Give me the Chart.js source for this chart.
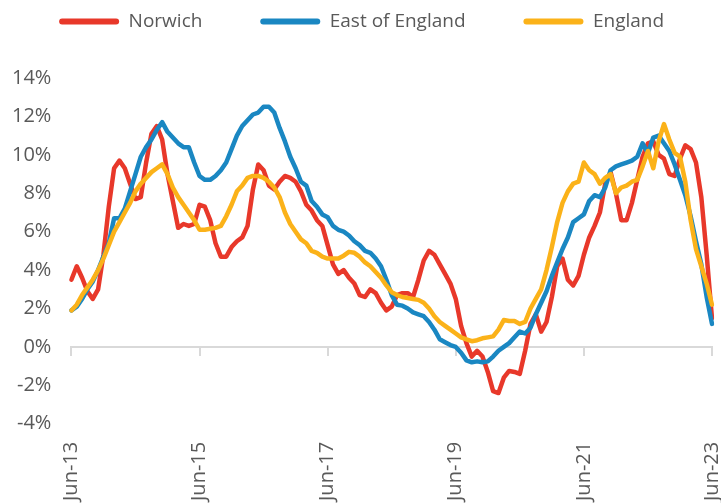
<!DOCTYPE html>
<html>
<head>
<meta charset="utf-8">
<script src="https://cdn.jsdelivr.net/npm/chart.js@4/dist/chart.umd.min.js"></script>
<style>
html, body { margin:0; padding:0; background:#fff; overflow:hidden; }
#wrap { position:relative; width:768px; height:519px; margin-left:-14px; }
</style>
</head>
<body>
<div id="wrap"><canvas id="c"></canvas></div>
<script>
'use strict';

// monthly, Jun-13 .. Jun-23 (121 points), annual % change
const MONTHS = ['Jan','Feb','Mar','Apr','May','Jun','Jul','Aug','Sep','Oct','Nov','Dec'];
const START_YEAR = 2013, START_MONTH = 5, N_MONTHS = 121;
const TICK_EVERY = 24;
const Y_TICKS = { min:-4, max:14, step:2 };

const norwich = [3.5,4.2,3.6,2.9,2.5,3.0,4.8,7.3,9.3,9.7, 9.3,8.5,7.7,7.8,9.6,11.1,11.5,10.8,9.0,7.6,
    6.2,6.4,6.3,6.4,7.4,7.3,6.6,5.4,4.7,4.7, 5.2,5.5,5.7,6.3,8.2,9.5,9.2,8.4,8.2,8.6,
    8.9,8.8,8.6,8.1,7.4,7.1,6.6,6.3,5.3,4.3, 3.8,4.0,3.6,3.3,2.7,2.6,3.0,2.8,2.3,1.9,
    2.1,2.7,2.8,2.8,2.6,3.5,4.5,5.0,4.8,4.3, 3.8,3.3,2.5,1.1,0.2,-0.5,-0.2,-0.5,-1.3,-2.3,
    -2.4,-1.6,-1.25,-1.3,-1.4,-0.2,1.2,1.7,0.8,1.3, 2.6,4.2,4.6,3.5,3.2,3.7,4.8,5.7,6.3,7.0,
    8.5,9.1,8.0,6.6,6.6,7.5,8.7,9.9,10.6,10.7, 10.0,9.8,9.0,8.9,9.8,10.5,10.3,9.6,7.8,4.8,
    1.5];
const eastOfEngland = [1.9,2.1,2.5,3.0,3.4,4.0,4.7,5.4,6.7,6.7, 7.2,8.1,9.0,9.9,10.4,10.8,11.3,11.7,11.2,10.9,
    10.6,10.4,10.4,9.6,8.9,8.7,8.7,8.9,9.2,9.6, 10.3,11.0,11.5,11.8,12.1,12.2,12.5,12.5,12.2,11.4,
    10.7,9.9,9.3,8.6,8.4,7.6,7.3,6.9,6.75,6.3, 6.1,6.0,5.8,5.5,5.3,5.0,4.9,4.6,4.2,3.5,
    2.7,2.2,2.15,2.0,1.8,1.7,1.6,1.3,0.9,0.4, 0.25,0.1,0.0,-0.3,-0.7,-0.8,-0.75,-0.8,-0.75,-0.5,
    -0.2,0.0,0.2,0.5,0.8,0.7,1.0,1.7,2.3,2.9, 3.7,4.4,5.1,5.7,6.5,6.7,6.9,7.6,7.9,7.8,
    8.3,9.2,9.4,9.5,9.6,9.7,9.9,10.6,10.1,10.9, 11.0,10.6,10.2,9.5,8.7,7.9,6.8,5.5,4.3,2.6,
    1.2];
const england = [1.9,2.2,2.7,3.1,3.5,4.0,4.6,5.3,6.0,6.5, 7.0,7.5,8.1,8.5,8.8,9.1,9.3,9.5,9.0,8.3,
    7.8,7.4,7.0,6.6,6.1,6.1,6.15,6.2,6.3,6.8, 7.4,8.1,8.4,8.8,8.9,8.9,8.8,8.6,8.3,7.8,
    7.0,6.4,6.0,5.6,5.4,5.0,4.9,4.7,4.6,4.6, 4.6,4.75,4.95,4.9,4.7,4.4,4.2,3.9,3.6,3.2,
    2.85,2.7,2.6,2.55,2.5,2.45,2.3,2.0,1.6,1.3, 1.1,0.9,0.7,0.5,0.4,0.3,0.35,0.45,0.5,0.55,
    0.9,1.4,1.35,1.35,1.2,1.3,2.0,2.5,3.0,4.0, 5.2,6.5,7.5,8.1,8.5,8.6,9.6,9.2,9.0,8.5,
    8.8,9.0,8.0,8.3,8.4,8.6,8.7,9.4,10.2,9.3, 10.7,11.6,10.8,10.1,9.9,8.6,6.6,5.1,4.2,3.3,
    2.2];

const labels = [];
for (let i = 0; i < N_MONTHS; i++) {
    const m = START_MONTH + i;
    labels.push(MONTHS[m % 12] + '-' + String(START_YEAR + Math.floor(m / 12)).slice(2));
}

const TXT = '#595959', AX = '#d9d9d9';
const FONT = { family:"'Open Sans', sans-serif", size:20 };
const LFONT = { family:"'Open Sans', sans-serif", size:19 };
const GAPS = ['\u2003\u2003  ', '\u2003\u2003  ', '   '];

// push the plot down below the legend, like the Excel layout
const legendMargin = { id:'legendMargin', beforeInit(chart) {
    const fit = chart.legend.fit;
    chart.legend.fit = function() { fit.call(this); this.height += 37; };
} };

const ds = (label, data, color, order) => ({ label, data, borderColor:color, backgroundColor:color,
    borderWidth:4.5, pointRadius:0, tension:0, order, borderJoinStyle:'round', borderCapStyle:'round' });

new Chart(document.getElementById('c'), {
    type:'line',
    data:{ labels, datasets:[
        ds('Norwich', norwich, '#e8382a', 2),
        ds('East of England', eastOfEngland, '#1a87c2', 1),
        ds('England', england, '#fbb219', 0)
    ] },
    plugins:[legendMargin],
    options:{
        responsive:true, maintainAspectRatio:false, animation:false,
        layout:{ padding:{ left:6, right:8, top:2, bottom:0 } },
        plugins:{
            tooltip:{ enabled:false },
            legend:{ display:true, position:'top', labels:{
                color:TXT, font:LFONT, boxWidth:60, boxHeight:6, padding:10, useBorderRadius:true, borderRadius:3,
                generateLabels:chart => chart.data.datasets.map((d, i) => ({
                    text:d.label + GAPS[i], fillStyle:d.borderColor, strokeStyle:d.borderColor,
                    lineWidth:0, borderRadius:3, fontColor:TXT, datasetIndex:i, hidden:false }))
            } }
        },
        scales:{
            x:{ type:'category', position:'bottom', grid:{ display:false, drawTicks:false }, border:{ display:false },
                ticks:{ color:TXT, font:FONT, autoSkip:false, maxRotation:90, minRotation:90, padding:18,
                    callback:(v, i) => i % TICK_EVERY === 0 ? labels[i] : null } },
            x2:{ type:'category', axis:'x', position:{ y:0 },
                grid:{ display:true, drawOnChartArea:false, drawTicks:true, tickLength:8, lineWidth:2,
                    color:c => c.index % TICK_EVERY === 0 ? AX : 'rgba(0,0,0,0)' },
                border:{ display:true, color:AX, width:2 },
                ticks:{ display:false, autoSkip:false } },
            y:{ min:Y_TICKS.min, max:Y_TICKS.max, grid:{ display:false, drawTicks:false }, border:{ display:false },
                ticks:{ stepSize:Y_TICKS.step, color:TXT, font:FONT, padding:20, callback:v => v + '%' } }
        }
    }
});
</script>
</body>
</html>
